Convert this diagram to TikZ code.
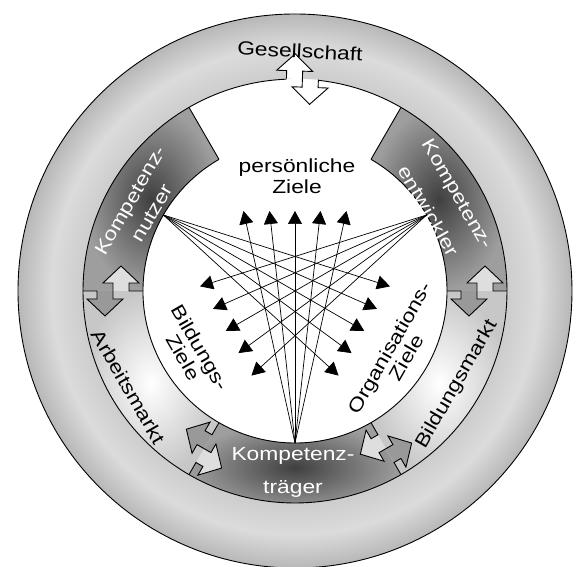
\documentclass[tikz,border=0pt]{standalone}
\usepackage{fontspec}
\usetikzlibrary{arrows.meta}
\newfontfamily\lblfamily[FakeStretch=1.2]{Liberation Sans}
\newcommand\lblfont[1]{\lblfamily\fontsize{19}{#1}\selectfont}
\definecolor{bandcore}{gray}{0.25}
\definecolor{bandedge}{gray}{0.62}
\definecolor{marktedge}{gray}{0.78}
\definecolor{tongdark}{gray}{0.6}
\definecolor{tonglight}{gray}{0.87}
\definecolor{ringin}{gray}{0.80}
\definecolor{ringmid}{gray}{0.86}
\definecolor{ringout}{gray}{0.72}
\pgfdeclareradialshading{ringshade}{\pgfpoint{0bp}{0bp}}{color(0bp)=(white); color(19bp)=(ringin); color(22bp)=(ringmid); color(25bp)=(ringout); color(50bp)=(ringout)}
\tikzset{
  outline/.style={line width=0.9pt},
  lbl/.style={font=\lblfont{21.5}, align=center, inner sep=0pt},
  bandlbl/.style={lbl, text=white},
  zielpfeil/.style={-{Triangle[length=13pt,width=14pt]}, line width=0.7pt},
  pics/dblarrow/.style n args={3}{code={
    \fill[#1] (0,0) -- (0,8) -- (-10,8) -- (8,25) -- (26,8) -- (16,8) -- (16,0) -- cycle;
    \fill[#2] (0,0) -- (0,-8) -- (10,-8) -- (-8,-25) -- (-26,-8) -- (-16,-8) -- (-16,0) -- cycle;
    \draw[outline] (-#3,0) -- (-16,0) -- (-16,-8) -- (-26,-8) -- (-8,-25) -- (10,-8) -- (0,-8)
      -- (0,8) -- (-10,8) -- (8,25) -- (26,8) -- (16,8) -- (16,0) -- (#3,0);
  }}
}
\begin{document}
\begin{tikzpicture}[x=1pt, y=1pt]
\useasboundingbox (-295,-276) rectangle (287,291);
\shade[shading=ringshade] (0,0) circle (277);
\fill[white] (0,0) circle (212);
\foreach \a/\b/\ci/\co in {120/180/bandcore/bandedge, 0/60/bandcore/bandedge, 240/300/bandcore/bandedge, 180/240/white/marktedge, 300/360/white/marktedge}
  \shade[inner color=\ci, outer color=\co] (\a:152) -- (\a:212) arc[start angle=\a, end angle=\b, radius=212] -- (\b:152) arc[start angle=\b, end angle=\a, radius=152] -- cycle;
\foreach \w/\ca/\cb in {180/tongdark/tonglight, 240/tonglight/tongdark, 300/tongdark/tonglight, 0/tonglight/tongdark}
  \pic[rotate=\w] at (\w:182) {dblarrow={\ca}{\cb}{30}};
\pic[rotate=-2, yscale=-1] at (88:212) {dblarrow={white}{white}{16}};
\draw[outline] (0,0) circle (277);
\draw[outline] (92.32:212) arc[start angle=92.32, end angle=443.68, radius=212];
\draw[outline] (120:152) arc[start angle=120, end angle=420, radius=152];
\draw[outline] (60:152) -- (60:212);
\draw[outline] (120:152) -- (120:212);
\foreach \r/\nm in {0/bot,120/rgt,240/lft} {
  \begin{scope}[rotate=\r]
    \coordinate (\nm) at (270:152);
    \foreach \x [count=\i] in {-51.5,-25.5,0,25.5,51.5}
      \coordinate (\nm-tip\i) at (\x,80);
    \foreach \i in {1,...,5}
      \draw[zielpfeil] (\nm) -- (\nm-tip\i);
  \end{scope}
}
\node[lbl, rotate=-3] (gesellschaft) at (5,240) {Gesellschaft};
\node[lbl] (persZiele) at (2,115) {persönliche\\Ziele};
\node[rotate=-60, lbl, font=\lblfont{19.5}] (bildZiele) at (-103,-61.5) {Bildungs-\\Ziele};
\node[rotate=60, lbl, font=\lblfont{19.5}] (orgZiele) at (103,-61.5) {Organisations-\\Ziele};
\node[rotate=60, bandlbl, font=\lblfont{25}] (nutzer) at (-153.7,84.3) {Kompetenz-\\nutzer};
\node[rotate=-60, bandlbl, font=\lblfont{34}] (entwickler) at (148.3,88.5) {Kompetenz-\\entwickler};
\node[bandlbl, font=\lblfont{33}] (traeger) at (-2,-181.8) {Kompetenz-\\träger};
\node[rotate=-60, lbl] (arbeitsmarkt) at (210:192) {Arbeitsmarkt};
\node[rotate=60, lbl] (bildungsmarkt) at (330:187) {Bildungsmarkt};
\end{tikzpicture}
\end{document}
